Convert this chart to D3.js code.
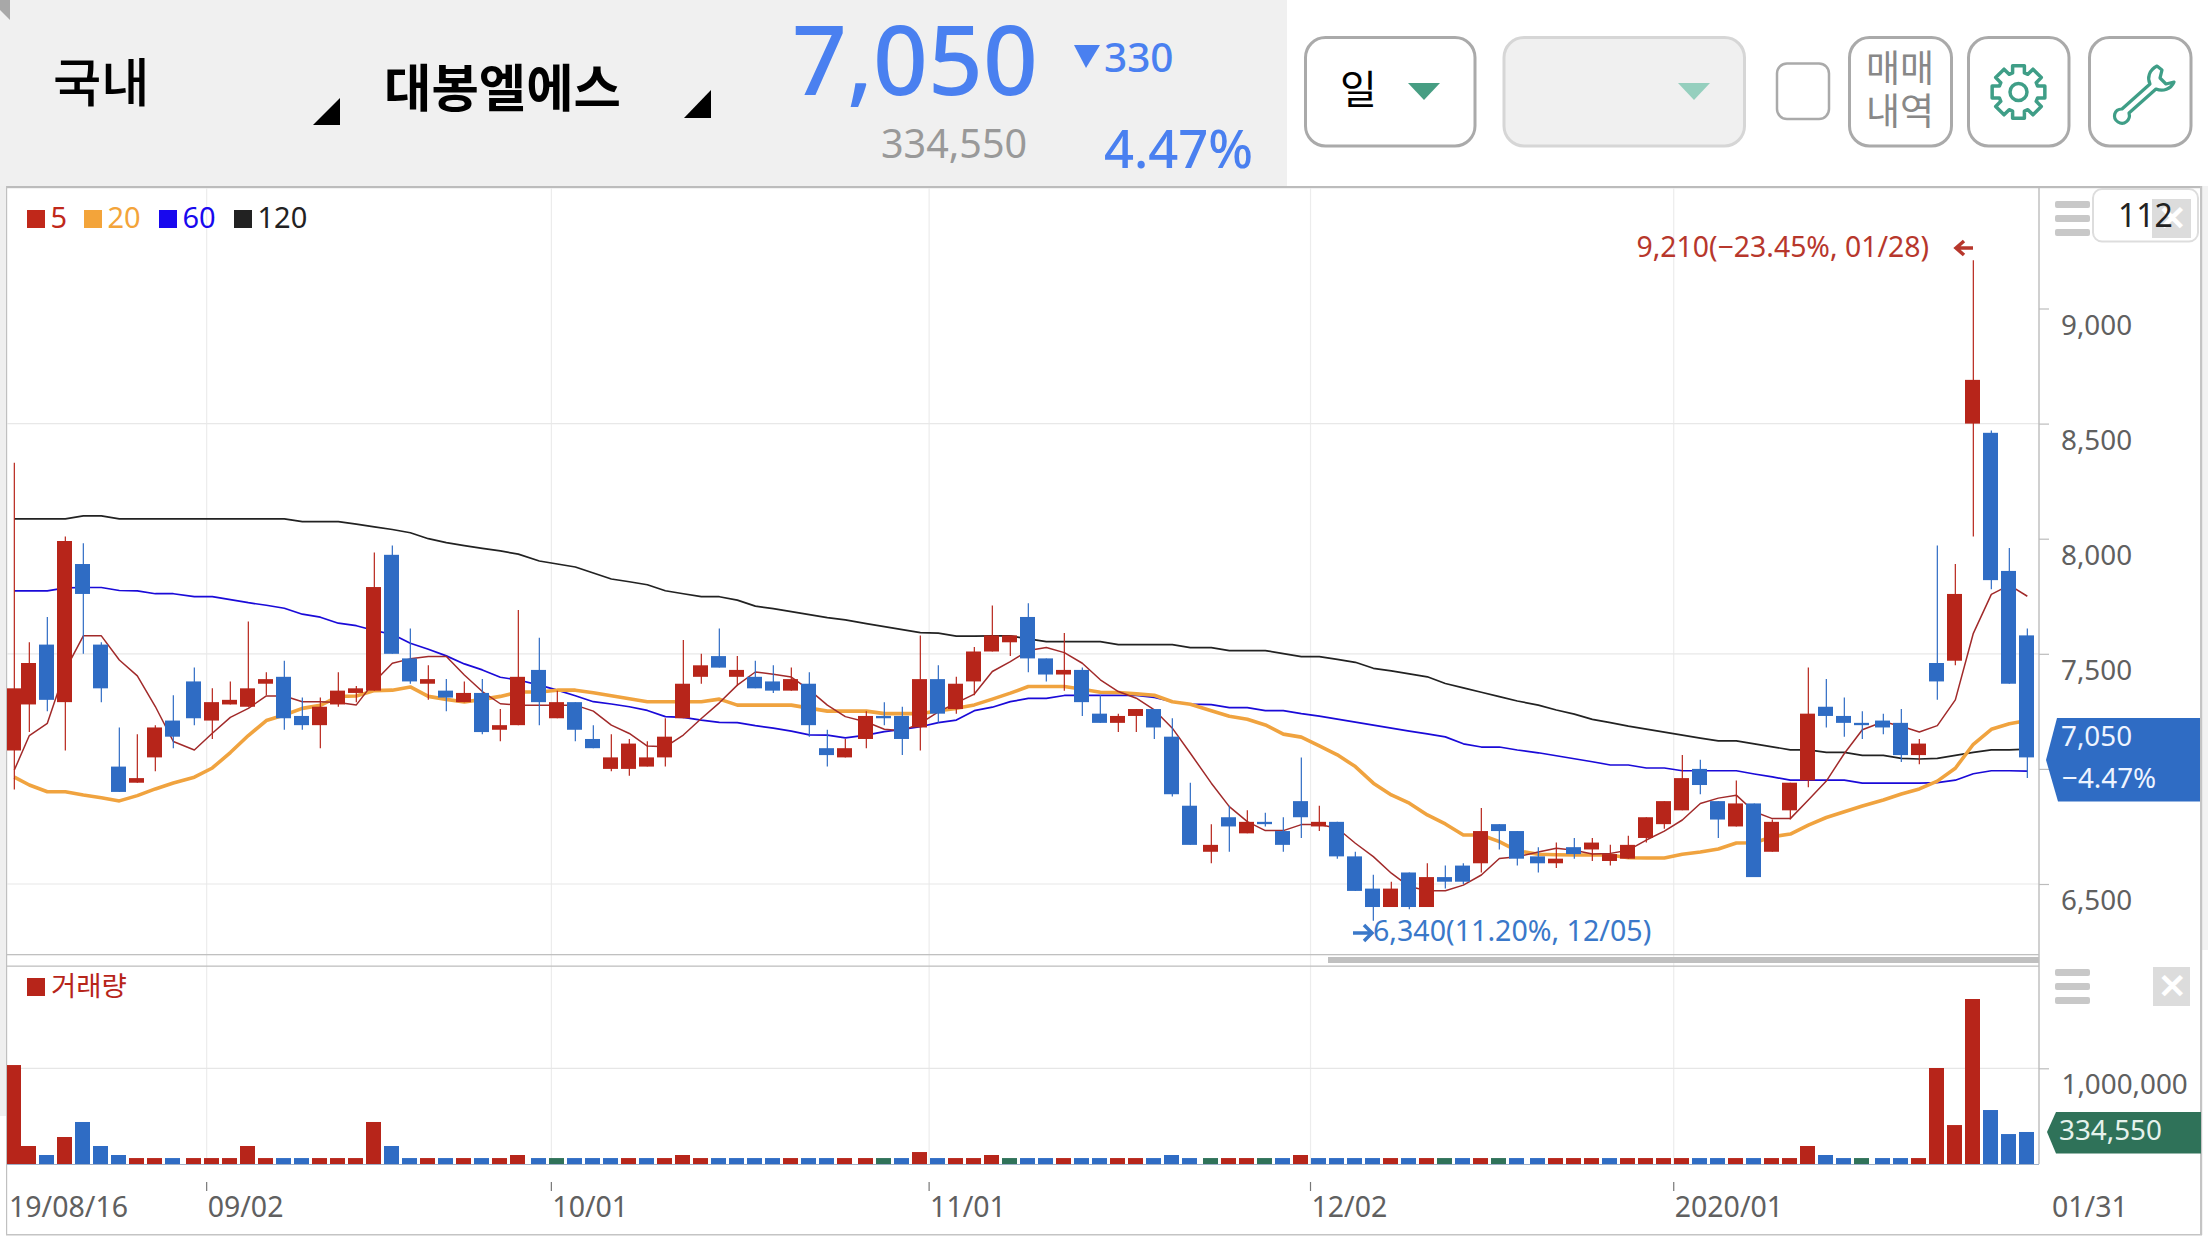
<!DOCTYPE html>
<html>
<head>
<meta charset="utf-8">
<style>
  html, body { margin: 0; padding: 0; background: #fff; }
  svg { display: block; }
  text { font-family: "Noto Sans", "Noto Sans CJK KR", sans-serif; }
</style>
</head>
<body>
<svg></svg>
<script src="https://cdn.jsdelivr.net/npm/d3@7"></script>
<script>

// candles, oldest first (19/08/16 .. 01/31), 112 sessions
var candleHigh = [
  8330,7550,7660,8010,7980,7550,7180,7150,7190,7320,
  7440,7350,7380,7640,7420,7470,7310,7310,7420,7360,
  7940,7970,7610,7450,7390,7380,7390,7260,7690,7570,
  7340,7290,7190,7150,7130,7120,7220,7560,7500,7610,
  7490,7470,7450,7440,7420,7170,7130,7250,7290,7270,
  7580,7450,7400,7530,7710,7580,7720,7480,7590,7440,
  7320,7240,7260,7260,7220,6940,6760,6840,6820,6810,
  6790,7050,6840,6770,6640,6540,6510,6550,6590,6580,
  6590,6830,6760,6730,6660,6680,6700,6700,6670,6710,
  6790,6860,7060,7040,6860,6950,6850,6780,6940,7440,
  7390,7310,7250,7240,7260,7130,7970,7890,9210,8470,7960,7610
];
var candleTop = [
  7350,7460,7540,7990,7890,7540,7010,6960,7180,7210,
  7380,7290,7300,7350,7390,7400,7230,7270,7340,7350,
  7790,7930,7480,7390,7340,7330,7330,7190,7400,7430,
  7290,7290,7130,7050,7110,7050,7140,7370,7450,7490,
  7430,7400,7380,7390,7370,7090,7090,7230,7230,7230,
  7390,7390,7370,7510,7580,7580,7660,7480,7430,7430,
  7240,7230,7260,7260,7140,6840,6670,6790,6770,6770,
  6730,6860,6770,6770,6620,6480,6480,6550,6530,6530,
  6580,6730,6760,6730,6620,6610,6660,6680,6630,6670,
  6790,6860,6960,7000,6860,6850,6850,6770,6940,7240,
  7270,7230,7200,7210,7200,7110,7460,7760,8690,8460,7860,7580
];
var candleBottom = [
  7080,7280,7300,7290,7760,7350,6900,6940,7050,7140,
  7220,7210,7280,7270,7370,7220,7190,7190,7280,7330,
  7340,7500,7380,7370,7310,7290,7160,7170,7190,7290,
  7220,7170,7090,7000,7000,7010,7050,7220,7400,7440,
  7400,7350,7340,7340,7190,7060,7050,7130,7220,7130,
  7180,7240,7260,7380,7510,7550,7480,7410,7410,7290,
  7200,7200,7230,7180,6890,6670,6640,6750,6720,6760,
  6670,6790,6750,6620,6470,6400,6400,6400,6400,6510,
  6510,6590,6730,6610,6590,6590,6630,6650,6600,6610,
  6700,6760,6820,6930,6780,6750,6530,6640,6820,6950,
  7230,7200,7190,7180,7060,7060,7380,7470,8500,7820,7370,7050
];
var candleLow = [
  6910,7160,7250,7080,7500,7290,6900,6940,6990,7090,
  7190,7130,7280,7270,7320,7170,7170,7090,7270,7290,
  7340,7500,7370,7300,7250,7290,7150,7120,7190,7190,
  7220,7120,7090,6990,6970,7010,7010,7220,7370,7440,
  7360,7350,7330,7340,7140,7010,7050,7090,7190,7060,
  7080,7200,7240,7320,7510,7490,7420,7380,7340,7230,
  7200,7160,7160,7130,6880,6670,6590,6640,6720,6750,
  6640,6700,6730,6610,6470,6340,6400,6390,6400,6480,
  6500,6550,6650,6580,6550,6570,6610,6600,6580,6610,
  6680,6740,6820,6890,6700,6750,6530,6640,6780,6920,
  7180,7140,7130,7150,7030,7020,7300,7450,8010,7780,7370,6960
];
// r = up, b = down
var candleTone = ("rrbrbbbrrb" + "brrrrbbrrr" + "rbbrbrbrrb" + "rbbrrrrrrb" + "rbbrbbrrbb" +
  "rbrrrrbbrb" + "brrbbbrbrb" + "bbrbbbrbrb" + "brbbbrbrrr" + "rrrbbrbrrr" + "bbbbbrbrrbbb").split("");

// moving averages
var ma5 = [
  6995,7145,7198,7430,7578,7578,7473,7404,7271,7119,
  7082,7155,7224,7263,7317,7317,7292,7292,7288,7278,
  7379,7459,7478,7488,7488,7408,7336,7283,7277,7277,
  7277,7277,7251,7190,7154,7099,7096,7147,7219,7287,
  7364,7421,7411,7399,7343,7277,7227,7204,7172,7166,
  7198,7248,7287,7325,7423,7466,7514,7527,7505,7459,
  7387,7336,7307,7256,7177,7068,6938,6836,6771,6732,
  6732,6758,6758,6742,6677,6619,6547,6489,6471,6471,
  6495,6539,6611,6618,6639,6655,6647,6630,6633,6647,
  6691,6730,6778,6850,6873,6886,6814,6784,6784,6865,
  6947,7067,7170,7205,7185,7160,7188,7300,7589,7758,7798,7750
];
var ma20 = [
  6964,6930,6901,6901,6887,6875,6861,6884,6913,6939,
  6964,7004,7071,7145,7210,7234,7263,7276,7315,7317,
  7340,7342,7356,7315,7302,7291,7302,7315,7334,7334,
  7342,7342,7331,7318,7305,7292,7292,7292,7292,7303,
  7277,7277,7277,7277,7264,7251,7251,7251,7240,7240,
  7240,7253,7263,7278,7303,7329,7358,7358,7358,7346,
  7333,7332,7326,7320,7292,7281,7253,7229,7216,7191,
  7151,7138,7100,7061,7010,6938,6887,6851,6800,6761,
  6713,6713,6684,6644,6629,6627,6626,6626,6626,6614,
  6613,6613,6629,6639,6652,6678,6679,6705,6717,6756,
  6789,6814,6839,6865,6891,6913,6947,7003,7107,7172,7196,7210
];
var ma60 = [
  7773,7773,7773,7786,7788,7788,7775,7773,7761,7761,
  7748,7748,7735,7722,7711,7698,7672,7659,7633,7622,
  7601,7585,7546,7520,7491,7456,7430,7398,7386,7364,
  7342,7318,7292,7282,7270,7254,7227,7224,7212,7202,
  7201,7188,7177,7164,7148,7147,7135,7147,7162,7172,
  7183,7201,7212,7253,7268,7292,7306,7306,7319,7319,
  7319,7319,7319,7311,7292,7281,7279,7266,7266,7253,
  7253,7240,7229,7216,7203,7190,7177,7164,7152,7139,
  7109,7095,7095,7082,7070,7057,7044,7031,7017,7017,
  7004,7004,6992,6992,6992,6992,6978,6965,6951,6951,
  6951,6951,6938,6938,6938,6938,6940,6951,6979,6992,6992,6990
];
var ma120 = [
  8086,8086,8086,8086,8099,8099,8086,8086,8086,8086,
  8086,8086,8086,8086,8086,8086,8074,8074,8074,8063,
  8051,8040,8026,8000,7983,7970,7958,7947,7933,7903,
  7890,7877,7851,7825,7813,7800,7774,7761,7748,7748,
  7733,7707,7696,7683,7670,7657,7647,7631,7618,7605,
  7592,7590,7577,7577,7578,7578,7565,7553,7553,7553,
  7553,7540,7540,7540,7540,7527,7527,7514,7514,7514,
  7501,7488,7488,7476,7463,7437,7426,7413,7400,7371,
  7352,7333,7314,7295,7277,7256,7238,7215,7201,7186,
  7173,7160,7147,7134,7122,7122,7109,7096,7083,7083,
  7072,7072,7059,7059,7046,7043,7046,7059,7072,7083,7083,7086
];

// volume pane
var volume = [
  1034000,188000,94000,282000,439000,188000,94000,62000,62000,62000,
  62000,62000,62000,188000,62000,62000,62000,62000,62000,62000,
  439000,188000,62000,62000,62000,62000,62000,62000,94000,62000,
  62000,62000,62000,62000,62000,62000,62000,94000,62000,62000,
  62000,62000,62000,62000,62000,62000,62000,62000,62000,62000,
  125000,62000,62000,62000,94000,62000,62000,62000,62000,62000,
  62000,62000,62000,62000,94000,62000,62000,62000,62000,62000,
  62000,94000,62000,62000,62000,62000,62000,62000,62000,62000,
  62000,62000,62000,62000,62000,62000,62000,62000,62000,62000,
  62000,62000,62000,62000,62000,62000,62000,62000,62000,188000,
  94000,62000,62000,62000,62000,62000,1003000,407000,1724000,564000,313000,334550
];
var volumeTone = ("rrbrbbbrrb" + "rrrrrbbrrr" + "rbbrbrbrrb" + "gbbbrbrrrb" + "bbbrbbrrgb" +
  "rbrrrgbbrb" + "brrbbbgrrg" + "brbbbbrbrg" + "brgbbrrrbr" + "rrrbbrbrrr" + "bbgbbrrrrbbb").split("");

// axes and labels
var priceTicks = [6500, 7000, 7500, 8000, 8500, 9000];
var priceLabels = ["6,500", "", "7,500", "8,000", "8,500", "9,000"];
var priceGrid = [6500, 7500, 8500];
var volumeTicks = [1000000];
var dateSlots = [10.72, 29.7, 50.5, 71.5, 91.5];
var dateLabels = ["09/02", "10/01", "11/01", "12/02", "2020/01"];
var legendNames = ["5", "20", "60", "120"];
var legendColors = ["#c0281a", "#f3a43a", "#1808ee", "#222222"];

var RED = "#b7251a", BLUE = "#2f6cc4", GREEN = "#2f7259", TEAL = "#3f9e87";
var toneColor = { r: RED, b: BLUE, g: GREEN };

var width = 2208, height = 1242;
var svg = d3.select("svg").attr("width", width).attr("height", height);

var plotLeft = 7, plotRight = 2039;

// x positions land on a 3px grid in the reference, so the slots are snapped
var slot = d3.scaleLinear().domain([0, 111]).range([11.97, 2027.88]);
function snap(v) { return 3 * Math.round(v / 3) - 0.67; }
function xAt(i) { return i === 0 ? snap(slot(1)) - 15 : snap(slot(i)); }

var y = d3.scaleLinear().domain([6500, 9000]).range([884, 308.5]);
var yVol = d3.scaleLinear().domain([0, 1000000]).range([1164, 1068.3]);

function addText(parent, str, x0, y0, size, fill, weight, anchor) {
  return parent.append("text").text(str)
    .attr("x", x0).attr("y", y0)
    .attr("font-size", size).attr("fill", fill)
    .attr("font-weight", weight || 400)
    .attr("text-anchor", anchor || "start");
}

function polygon(parent, pts, fill) {
  return parent.append("polygon")
    .attr("points", pts.map(function(p) { return p.join(","); }).join(" "))
    .attr("fill", fill);
}

function button(parent, x0, y0, x1, y1, r, stroke, sw, fill) {
  return parent.append("rect")
    .attr("x", x0).attr("y", y0)
    .attr("width", x1 - x0).attr("height", y1 - y0)
    .attr("rx", r).attr("fill", fill).attr("stroke", stroke).attr("stroke-width", sw);
}

// HEADER-----------------------------------------------------------------

var head = svg.append("g");
head.append("rect").attr("width", 1287).attr("height", 186).attr("fill", "#f0f0f0");
polygon(head, [[0, 0], [10, 0], [10, 20], [0, 10]], "#a8a8a8");

addText(head, "국내", 53, 102, 52.5, "#000", 500);
polygon(head, [[313, 125], [340, 125], [340, 98]], "#000");
addText(head, "대봉엘에스", 384, 107, 51.5, "#000", 700);
polygon(head, [[684, 118], [711, 118], [711, 90]], "#000");

addText(head, "7,050", 792, 95, 96, "#4a80f0", 500);
polygon(head, [[1074, 45], [1100, 45], [1086, 68]], "#4a80f0");
addText(head, "330", 1104, 72, 40.5, "#4a80f0", 500);
addText(head, "334,550", 881, 158, 39.5, "#999");
addText(head, "4.47%", 1104, 168, 52.5, "#4a80f0", 500);

button(head, 1305.5, 37.5, 1475, 146, 20, "#aaa", 3, "#fff");
addText(head, "일", 1340, 104, 40, "#000");
polygon(head, [[1408, 83], [1440, 83], [1424, 100]], "#479e83");

button(head, 1504, 37.5, 1744.5, 146, 20, "#d6d6d6", 3, "#f0f0f0");
polygon(head, [[1678, 83], [1710, 83], [1694, 100]], "#95cfbe");

button(head, 1777, 63.5, 1829, 119, 10, "#aaa", 2.5, "#fff");

button(head, 1849.5, 37.5, 1951.5, 146, 20, "#aaa", 3, "#fff");
addText(head, "매매", 1900, 82, 37, "#888", 400, "middle");
addText(head, "내역", 1900, 125, 37, "#888", 400, "middle");

button(head, 1968.5, 37.5, 2069, 146, 20, "#aaa", 3, "#fff");
// gear icon
var gearPts = [];
for (var t = 0; t < 8; t++) {
  var a = t * Math.PI / 4;
  [[-0.30, 20], [-0.22, 27], [0.22, 27], [0.30, 20]].forEach(function(p) {
    gearPts.push([Math.sin(a + p[0]) * p[1], -Math.cos(a + p[0]) * p[1]]);
  });
}
var gear = head.append("g").attr("transform", "translate(2018.5,92)");
gear.append("path").attr("d", d3.line().curve(d3.curveLinearClosed)(gearPts))
  .attr("fill", "none").attr("stroke", TEAL).attr("stroke-width", 3.5).attr("stroke-linejoin", "round");
gear.append("circle").attr("r", 8.5).attr("fill", "none").attr("stroke", TEAL).attr("stroke-width", 3.5);

button(head, 2089.5, 37.5, 2191, 146, 20, "#aaa", 3, "#fff");
// wrench icon
head.append("path")
  .attr("d", "M2157 66 C2149 70 2147 78 2150 84 L2122 109 C2114 109 2112 118 2118 122 C2124 126 2131 120 2129 113 L2156 89 C2163 92 2171 89 2174 82 L2166 84 L2160 78 L2162 70 Z")
  .attr("fill", "none").attr("stroke", TEAL).attr("stroke-width", 3.2).attr("stroke-linejoin", "round");

// FRAME AND GRID---------------------------------------------------------

var frame = svg.append("g");
// pale strips either side of the chart frame
frame.append("rect").attr("x", 0).attr("y", 186).attr("width", 6).attr("height", 930).attr("fill", "#efefef");
frame.append("rect").attr("x", 2202).attr("y", 186).attr("width", 6).attr("height", 764).attr("fill", "#f2f2f2");
// chart frame
frame.append("rect").attr("x", 6).attr("y", 186).attr("width", 2196).attr("height", 2.2).attr("fill", "#bcbcbc");
frame.append("rect").attr("x", 6).attr("y", 186).attr("width", 1.2).attr("height", 1049).attr("fill", "#c0c0c0");
frame.append("rect").attr("x", 2200).attr("y", 186).attr("width", 2.2).attr("height", 1049).attr("fill", "#c4c4c4");
frame.append("rect").attr("x", 6).attr("y", 1234).attr("width", 2196).attr("height", 1.5).attr("fill", "#c4c4c4");

// vertical date gridlines
frame.selectAll(".dategrid").data(dateSlots).enter().append("line")
  .attr("x1", function(d) { return slot(d); }).attr("x2", function(d) { return slot(d); })
  .attr("y1", 188).attr("y2", 1164)
  .attr("stroke", "#ececec").attr("stroke-width", 1.2);

frame.selectAll(".pricegrid").data(priceGrid).enter().append("line")
  .attr("x1", plotLeft).attr("x2", plotRight)
  .attr("y1", function(d) { return y(d); }).attr("y2", function(d) { return y(d); })
  .attr("stroke", "#e8e8e8").attr("stroke-width", 1.2);

frame.append("line").attr("x1", plotLeft).attr("x2", plotRight)
  .attr("y1", yVol(1000000)).attr("y2", yVol(1000000))
  .attr("stroke", "#e6e6e6").attr("stroke-width", 1.2);

frame.append("line").attr("x1", plotRight).attr("x2", plotRight)
  .attr("y1", 188).attr("y2", 1164).attr("stroke", "#bcbcbc").attr("stroke-width", 1.4);
frame.append("rect").attr("x", plotLeft).attr("y", 954).attr("width", plotRight - plotLeft).attr("height", 1.3).attr("fill", "#c0c0c0");
frame.append("rect").attr("x", plotLeft).attr("y", 965.5).attr("width", plotRight - plotLeft).attr("height", 1.3).attr("fill", "#c0c0c0");
frame.append("rect").attr("x", 1328).attr("y", 957).attr("width", plotRight - 1328).attr("height", 6).attr("fill", "#c0c0c0");

// MARKS------------------------------------------------------------------

svg.append("clipPath").attr("id", "plotclip").append("rect")
  .attr("x", plotLeft).attr("y", 188).attr("width", plotRight - plotLeft).attr("height", 1000);

var marks = svg.append("g").attr("clip-path", "url(#plotclip)");

// moving averages sit behind the candles
var maLine = d3.line().x(function(d, i) { return xAt(i); }).y(function(d) { return y(d); });
[[ma120, "#222222", 1.7], [ma60, "#1a0ad8", 1.7], [ma20, "#f0a33f", 3.6], [ma5, "#a12a2a", 1.5]].forEach(function(s) {
  marks.append("path").attr("d", maLine(s[0]))
    .attr("fill", "none").attr("stroke", s[1]).attr("stroke-width", s[2]).attr("stroke-linejoin", "round");
});

marks.selectAll(".wick").data(candleHigh).enter().append("line")
  .attr("x1", function(d, i) { return xAt(i); }).attr("x2", function(d, i) { return xAt(i); })
  .attr("y1", function(d) { return y(d); })
  .attr("y2", function(d, i) { return y(candleLow[i]); })
  .attr("stroke", function(d, i) { return toneColor[candleTone[i]]; })
  .attr("stroke-width", 1.2);

marks.selectAll(".body").data(candleTop).enter().append("rect")
  .attr("x", function(d, i) { return xAt(i) - 8.33; })
  .attr("width", 15)
  .attr("y", function(d) { return y(d); })
  .attr("height", function(d, i) { return y(candleBottom[i]) - y(d); })
  .attr("fill", function(d, i) { return toneColor[candleTone[i]]; });

marks.selectAll(".vol").data(volume).enter().append("rect")
  .attr("x", function(d, i) { return xAt(i) - 8.33; })
  .attr("width", 15)
  .attr("y", function(d) { return yVol(d); })
  .attr("height", function(d) { return yVol(0) - yVol(d); })
  .attr("fill", function(d, i) { return toneColor[volumeTone[i]]; });

svg.append("line").attr("x1", plotLeft).attr("x2", plotRight)
  .attr("y1", 1164.5).attr("y2", 1164.5).attr("stroke", "#9fb0c8").attr("stroke-width", 1.2);

// AXES-------------------------------------------------------------------

var priceAxis = d3.axisRight(y).tickValues(priceTicks).tickSize(10)
  .tickFormat(function(d) { return priceLabels[priceTicks.indexOf(d)]; });
var gPrice = svg.append("g").attr("transform", "translate(" + plotRight + ",0)").call(priceAxis);
gPrice.select(".domain").remove();
gPrice.selectAll("line").attr("stroke", "#bcbcbc").attr("stroke-width", 1.2);
gPrice.selectAll("text")
  .attr("x", 22).attr("y", 25.5).attr("dy", 0)
  .attr("font-size", 27.8).attr("fill", "#606060")
  .style("font-family", '"Noto Sans", sans-serif');

var volAxis = d3.axisRight(yVol).tickValues(volumeTicks).tickSize(10).tickFormat(d3.format(","));
var gVol = svg.append("g").attr("transform", "translate(" + plotRight + ",0)").call(volAxis);
gVol.select(".domain").remove();
gVol.selectAll("line").attr("stroke", "#bcbcbc").attr("stroke-width", 1.2);
gVol.selectAll("text")
  .attr("x", 22.5).attr("y", 25).attr("dy", 0)
  .attr("font-size", 27.8).attr("fill", "#606060")
  .style("font-family", '"Noto Sans", sans-serif');

var dates = svg.append("g");
dates.selectAll("line").data(dateSlots).enter().append("line")
  .attr("x1", function(d) { return slot(d); }).attr("x2", function(d) { return slot(d); })
  .attr("y1", 1182).attr("y2", 1191)
  .attr("stroke", "#777").attr("stroke-width", 1.2);
dateSlots.forEach(function(d, i) {
  addText(dates, dateLabels[i], slot(d) + 1, 1217, 28.5, "#606060");
});
addText(dates, "19/08/16", 9, 1217, 28.5, "#606060");
addText(dates, "01/31", 2052, 1217, 28.5, "#606060");

// LEGENDS AND TAGS-------------------------------------------------------

var legendX = [27, 84, 159, 234];
legendNames.forEach(function(name, i) {
  svg.append("rect").attr("x", legendX[i]).attr("y", 210)
    .attr("width", 18).attr("height", 18).attr("fill", legendColors[i]);
  addText(svg, name, legendX[i] + 23.5, 227.5, 29, legendColors[i]);
});

svg.append("rect").attr("x", 27).attr("y", 978).attr("width", 18).attr("height", 18).attr("fill", RED);
addText(svg, "거래량", 51, 996, 27.5, RED);

// high and low call-outs
addText(svg, "9,210(−23.45%, 01/28)", 1929, 257, 28.4, "#b7372c", 400, "end");
svg.append("path").attr("d", "M1973 248 H1956 M1964 241 L1956 248 L1964 255")
  .attr("fill", "none").attr("stroke", "#b7372c").attr("stroke-width", 3.5);
addText(svg, "6,340(11.20%, 12/05)", 1373, 941, 28.6, "#3a78c9");
svg.append("path").attr("d", "M1353 933 H1372 M1364 925 L1372 933 L1364 941")
  .attr("fill", "none").attr("stroke", "#3a78c9").attr("stroke-width", 3.5);

// current price and volume tags
polygon(svg, [[2057, 718], [2200, 718], [2200, 801.5], [2058, 801.5], [2046, 760]], BLUE);
addText(svg, "7,050", 2061, 746, 27.8, "#eef4ff");
addText(svg, "−4.47%", 2062, 787.5, 27.8, "#eef4ff");
polygon(svg, [[2056, 1112], [2201, 1112], [2201, 1153.5], [2056, 1153.5], [2047, 1132]], GREEN);
addText(svg, "334,550", 2059, 1140, 27.8, "#e6f2ec");

// pane controls
[[201, 215, 229], [969, 983, 997]].forEach(function(rows) {
  rows.forEach(function(ry) {
    svg.append("rect").attr("x", 2055).attr("y", ry).attr("width", 35).attr("height", 7)
      .attr("rx", 2).attr("fill", "#c8c8c8");
  });
});

button(svg, 2093, 189, 2198, 241.5, 9, "#dddddd", 2, "#fff");
svg.append("rect").attr("x", 2152).attr("y", 199).attr("width", 39).attr("height", 39).attr("fill", "#dcdcdc");
addText(svg, "✕", 2171.5, 230, 34, "#fff", 700, "middle");
addText(svg, "112", 2118, 226.5, 32, "#222");
svg.append("rect").attr("x", 2153).attr("y", 967).attr("width", 37).attr("height", 39).attr("fill", "#dcdcdc");
addText(svg, "✕", 2171.5, 998, 34, "#fff", 700, "middle");

</script>
</body>
</html>
